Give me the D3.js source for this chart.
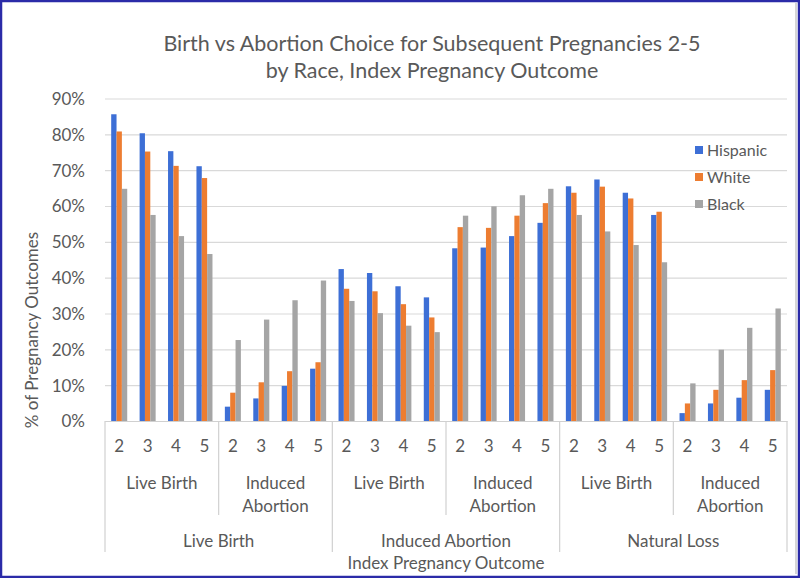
<!DOCTYPE html>
<html>
<head>
<meta charset="utf-8">
<script src="https://cdn.jsdelivr.net/npm/d3@7"></script>
<style>
  body { margin: 0; background: #fff; }
  text { font-family: Lato, "Open Sans", sans-serif; fill: #595959; }
</style>
</head>
<body>
<div id="chart"></div>
<script>
// index pregnancy outcome (top level), subsequent outcome (middle), pregnancy number (bottom)
const indexOutcomes = ['Live Birth', 'Induced Abortion', 'Natural Loss']
const subsequentOutcomes = ['Live Birth', 'Induced Abortion']
const pregnancies = ['2', '3', '4', '5']
const races = ['Hispanic', 'White', 'Black']
const colors = ['#3d6fd6', '#ed7d31', '#a5a5a5']

// percent values, read left to right
const hispanic = [85.6, 80.3, 75.3, 71.1, 4.0, 6.3, 9.8, 14.6,
  42.4, 41.3, 37.6, 34.5, 48.2, 48.4, 51.6, 55.3,
  65.5, 67.4, 63.7, 57.5, 2.2, 4.9, 6.5, 8.7]
const white = [80.8, 75.2, 71.2, 67.8, 7.9, 10.8, 13.9, 16.4,
  36.9, 36.2, 32.6, 28.9, 54.1, 53.9, 57.3, 60.8,
  63.7, 65.4, 62.1, 58.4, 4.9, 8.7, 11.4, 14.2]
const black = [64.8, 57.5, 51.6, 46.6, 22.6, 28.3, 33.7, 39.2,
  33.5, 30.1, 26.6, 24.8, 57.3, 59.9, 63.0, 64.8,
  57.5, 52.9, 49.1, 44.3, 10.5, 19.9, 26.0, 31.4]
const yTicks = [0, 10, 20, 30, 40, 50, 60, 70, 80, 90]

const width = 800
const height = 578
const plotLeft = 105
const plotRight = 787
const plotTop = 98.5
const plotBottom = 421

const rows = []
indexOutcomes.forEach((io, i) => {
  subsequentOutcomes.forEach((so, j) => {
    pregnancies.forEach((p, k) => {
      const idx = (i * 2 + j) * 4 + k
      rows.push({ key: idx, io, so, p, values: [hispanic[idx], white[idx], black[idx]] })
    })
  })
})

const svg = d3.select('#chart').append('svg')
  .attr('width', width)
  .attr('height', height)

svg.append('rect')
  .attr('width', width).attr('height', height)
  .attr('fill', '#fff')

const x = d3.scaleBand()
  .domain(rows.map(d => d.key))
  .range([plotLeft, plotRight])
  .paddingInner(0.436)
  .paddingOuter(0.218)

const xs = d3.scaleBand()
  .domain(races)
  .range([0, x.bandwidth()])

const y = d3.scaleLinear()
  .domain([0, 90])
  .range([plotBottom, plotTop])

// gridlines
svg.append('g')
  .attr('transform', `translate(${plotLeft},0)`)
  .call(d3.axisLeft(y).tickValues(yTicks).tickSize(-(plotRight - plotLeft)).tickFormat(''))
  .call(g => g.select('.domain').remove())
  .call(g => g.selectAll('line').attr('stroke', '#d9d9d9').attr('stroke-width', 1.2))

// y labels
svg.append('g')
  .attr('transform', `translate(${plotLeft - 17},0)`)
  .call(d3.axisLeft(y).tickValues(yTicks).tickSize(0).tickFormat(d => d + '%'))
  .call(g => g.select('.domain').remove())
  .call(g => g.selectAll('text').style('font-size', '17px').attr('fill', '#595959').attr('dy', '0.35em'))

// legend (drawn over gridlines)
const legend = svg.append('g')
races.forEach((r, i) => {
  const ly = 150 + i * 27
  legend.append('rect')
    .attr('x', 695).attr('y', ly - 4)
    .attr('width', 8).attr('height', 8)
    .attr('fill', colors[i])
  legend.append('text')
    .attr('x', 707).attr('y', ly)
    .attr('dy', '0.35em')
    .style('font-size', '16px')
    .text(r)
})

// bars
const cat = svg.append('g')
  .selectAll('g')
  .data(rows)
  .enter()
  .append('g')
  .attr('transform', d => `translate(${x(d.key)},0)`)

cat.selectAll('rect')
  .data(d => d.values.map((v, i) => ({ race: races[i], v, i })))
  .enter()
  .append('rect')
  .attr('x', d => xs(d.race))
  .attr('width', xs.bandwidth())
  .attr('y', d => y(d.v))
  .attr('height', d => plotBottom - y(d.v))
  .attr('fill', d => colors[d.i])

// x axis, bottom level numbers
svg.append('g')
  .attr('transform', `translate(0,${plotBottom})`)
  .call(d3.axisBottom(x).tickSize(0).tickFormat(k => rows[k].p))
  .call(g => g.select('.domain').attr('stroke', '#d0d0d0').attr('stroke-width', 1.2))
  .call(g => g.selectAll('text').style('font-size', '17px').attr('y', 19))

const step = x.step()
// separators between groups
const sepG = svg.append('g').attr('stroke', '#d0d0d0').attr('stroke-width', 1.2)
for (let i = 0; i <= 6; i++) {
  const xx = plotLeft + i * 4 * step
  const outer = i % 2 === 0
  sepG.append('line')
    .attr('x1', xx).attr('x2', xx)
    .attr('y1', plotBottom).attr('y2', outer ? 552 : 515)
}

// middle level labels
for (let i = 0; i < 6; i++) {
  const cx = plotLeft + (i * 4 + 2) * step
  const label = subsequentOutcomes[i % 2]
  const words = label === 'Induced Abortion' ? ['Induced', 'Abortion'] : [label]
  words.forEach((w, j) => {
    svg.append('text')
      .attr('x', cx).attr('y', 489 + j * 23)
      .attr('text-anchor', 'middle')
      .style('font-size', '17px')
      .text(w)
  })
}

// top level labels
indexOutcomes.forEach((io, i) => {
  svg.append('text')
    .attr('x', plotLeft + (i * 8 + 4) * step).attr('y', 547)
    .attr('text-anchor', 'middle')
    .style('font-size', '17px')
    .text(io)
})

svg.append('text')
  .attr('x', plotLeft + 12 * step).attr('y', 569)
  .attr('text-anchor', 'middle')
  .style('font-size', '17px')
  .text('Index Pregnancy Outcome')

svg.append('text')
  .attr('transform', 'translate(38,330) rotate(-90)')
  .attr('text-anchor', 'middle')
  .style('font-size', '17px')
  .text('% of Pregnancy Outcomes')

// title
const title = ['Birth vs Abortion Choice for Subsequent Pregnancies 2-5', 'by Race, Index Pregnancy Outcome']
title.forEach((t, i) => {
  svg.append('text')
    .attr('x', 432).attr('y', 51 + i * 27)
    .attr('text-anchor', 'middle')
    .style('font-size', '21.5px')
    .text(t)
})

// frame
svg.append('line')
  .attr('x1', 796).attr('x2', 796).attr('y1', 3).attr('y2', 574)
  .attr('stroke', '#c8c8c8').attr('stroke-width', 1.5)
svg.append('rect')
  .attr('x', 1).attr('y', 1)
  .attr('width', width - 2).attr('height', height - 2)
  .attr('fill', 'none')
  .attr('stroke', '#2b2ba8')
  .attr('stroke-width', 2.5)
</script>
</body>
</html>
